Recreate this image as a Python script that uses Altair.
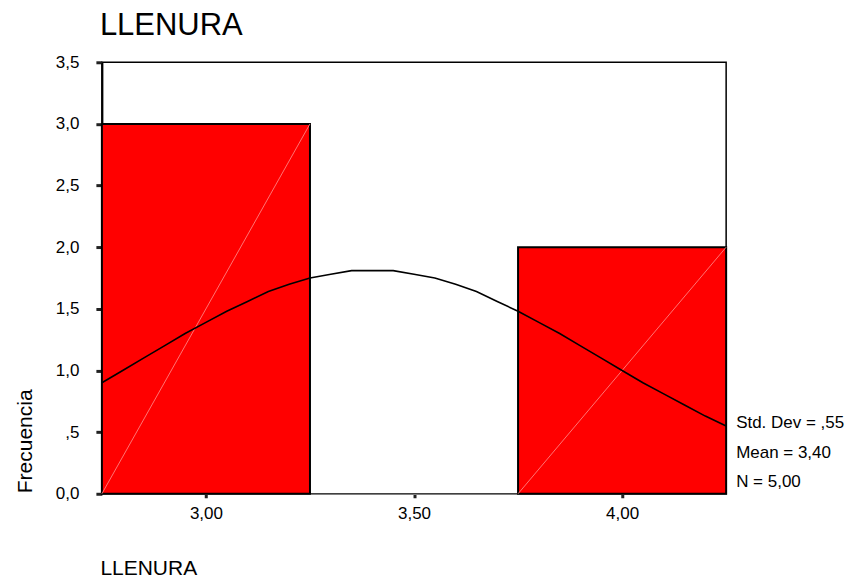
import altair as alt
import pandas as pd

# Histogram bins (LLENURA)
bin_start = [2.75, 3.75]
bin_end = [3.25, 4.25]
counts = [3, 2]

# Normal curve (Mean 3,40 ; Std. Dev ,55 ; N 5)
curve_x = [2.75, 2.80, 2.85, 2.90, 2.95, 3.00, 3.05, 3.10, 3.15, 3.20, 3.25,
           3.30, 3.35, 3.40, 3.45, 3.50, 3.55, 3.60, 3.65, 3.70, 3.75, 3.80,
           3.85, 3.90, 3.95, 4.00, 4.05, 4.10, 4.15, 4.20, 4.25]
curve_y = [0.90, 1.00, 1.10, 1.20, 1.30, 1.39, 1.48, 1.56, 1.64, 1.70, 1.75,
           1.78, 1.81, 1.81, 1.81, 1.78, 1.75, 1.70, 1.64, 1.56, 1.48, 1.39,
           1.30, 1.20, 1.10, 1.00, 0.90, 0.81, 0.72, 0.63, 0.55]

stats_lines = ["Std. Dev = ,55", "Mean = 3,40", "N = 5,00"]
chart_title = "LLENURA"

y_ticks = [0, 0.5, 1.0, 1.5, 2.0, 2.5, 3.0, 3.5]
x_ticks = [3.0, 3.5, 4.0]

FONT = "Liberation Sans"

bars_df = pd.DataFrame({"start": bin_start, "end": bin_end, "count": counts,
                        "base": [0] * len(counts)})
curve_df = pd.DataFrame({"x": curve_x, "y": curve_y})
stats_df = pd.DataFrame({"label": stats_lines, "py": [366, 396, 425]})
title_df = pd.DataFrame({"label": [chart_title]})

xscale = alt.Scale(domain=[2.75, 4.25], nice=False, zero=False)
yscale = alt.Scale(domain=[0, 3.5], nice=False)

x_axis = alt.Axis(
    values=x_ticks,
    labelExpr="replace(format(datum.value, '.2f'), '.', ',')",
    title="LLENURA", titleFont=FONT, titleFontSize=21, titleFontWeight="normal",
    titleAnchor="start", titleAlign="left", titleX=-2, titleY=81,
    titleBaseline="alphabetic", titleColor="black",
    labelFont=FONT, labelFontSize=17, labelColor="black", labelPadding=8,
    tickSize=4, tickWidth=3, tickColor="#222222",
    domainColor="#808080", domainWidth=1.5, grid=False,
)
y_axis = alt.Axis(
    values=y_ticks,
    labelExpr="datum.value == 0.5 ? ',5' : replace(format(datum.value, '.1f'), '.', ',')",
    title="Frecuencia", titleFont=FONT, titleFontSize=21, titleFontWeight="normal",
    titleAngle=270, titleX=-70, titleY=379, titleAlign="center",
    titleBaseline="alphabetic", titleColor="black",
    labelFont=FONT, labelFontSize=17, labelColor="black", labelPadding=17,
    tickSize=6, tickWidth=3, tickColor="#222222",
    domainColor="black", domainWidth=2, grid=False,
)

bars = alt.Chart(bars_df).mark_rect(
    fill="#FF0000", stroke="black", strokeWidth=2
).encode(
    x=alt.X("start:Q", scale=xscale, axis=x_axis),
    x2="end:Q",
    y=alt.Y("count:Q", scale=yscale, axis=y_axis),
    y2="base:Q",
)

diag = alt.Chart(bars_df).mark_rule(
    color="#FF9090", strokeWidth=0.8
).encode(
    x=alt.X("start:Q", scale=xscale),
    x2="end:Q",
    y=alt.Y("base:Q", scale=yscale),
    y2="count:Q",
)

curve = alt.Chart(curve_df).mark_line(
    color="black", strokeWidth=1.6
).encode(
    x=alt.X("x:Q", scale=xscale),
    y=alt.Y("y:Q", scale=yscale),
)

stats = alt.Chart(stats_df).mark_text(
    align="left", baseline="alphabetic", font=FONT, fontSize=17, color="black"
).encode(
    x=alt.value(635),
    y=alt.Y("py:Q", scale=None),
    text="label:N",
)

title = alt.Chart(title_df).mark_text(
    align="left", baseline="alphabetic", font=FONT, fontSize=31, color="black"
).encode(
    x=alt.value(-2),
    y=alt.value(-27),
    text="label:N",
)

chart = alt.layer(bars, diag, curve, stats, title).properties(
    width=625, height=432,
    autosize=alt.AutoSizeParams(type="none"),
    padding={"left": 94, "top": 54, "right": 120, "bottom": 88},
).configure(
    background="white"
).configure_view(
    stroke="black", strokeWidth=1.5
)

chart.save("out.html", embed_options={"renderer": "svg", "actions": False})
